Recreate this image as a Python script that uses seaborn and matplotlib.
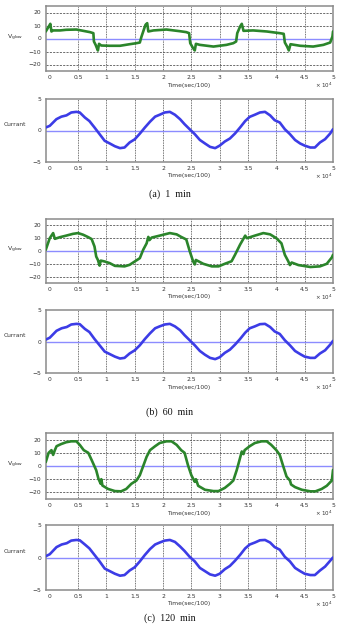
import numpy as np
import pandas as pd
import matplotlib
matplotlib.use("Agg")
import matplotlib.pyplot as plt
import seaborn as sns
from matplotlib.ticker import FuncFormatter, MultipleLocator

# ---------------- data (time in units of 1e4 sec/100) ----------------
va_x = [-0.07, -0.035, 0.0, 0.01, 0.03, 0.06, 0.18, 0.29, 0.47, 0.59, 0.71, 0.77, 0.78, 0.81, 0.84, 0.85,
        0.87, 0.91, 1.06, 1.24, 1.41, 1.53, 1.59, 1.62, 1.65, 1.69, 1.72, 1.74, 1.83, 2.06, 2.30, 2.41,
        2.46, 2.48, 2.53, 2.56, 2.58, 2.65, 2.89, 3.12, 3.24, 3.29, 3.31, 3.36, 3.39, 3.42, 3.59, 3.83,
        4.06, 4.13, 4.15, 4.19, 4.22, 4.25, 4.42, 4.65, 4.83, 4.95, 4.99, 5.0]
va_y = [5.4, 8.0, 10.5, 11.3, 5.4, 6.2, 6.2, 6.7, 6.9, 5.9, 4.9, 4.1, -2.3, -4.9, -8.2, -9.2,
        -4.1, -5.4, -5.6, -5.6, -4.4, -3.6, -3.1, 1.5, 5.4, 10.5, 11.8, 5.4, 6.2, 6.9, 5.6, 4.9,
        4.1, -3.6, -7.4, -9.2, -4.1, -4.9, -6.2, -4.9, -3.6, -2.3, 4.1, 9.2, 11.3, 5.9, 6.2, 5.4,
        4.1, 3.6, -3.1, -6.2, -9.2, -4.4, -5.6, -6.2, -4.9, -3.1, 1.5, 5.4]

vb_x = [-0.07, 0.0, 0.06, 0.09, 0.18, 0.29, 0.41, 0.50, 0.59, 0.68, 0.74, 0.79, 0.82, 0.85, 0.88, 0.90,
        0.97, 1.06, 1.15, 1.32, 1.41, 1.50, 1.59, 1.65, 1.71, 1.74, 1.76, 1.80, 1.94, 2.12, 2.24, 2.32,
        2.41, 2.47, 2.53, 2.56, 2.58, 2.71, 2.86, 2.98, 3.09, 3.21, 3.27, 3.36, 3.45, 3.48, 3.62, 3.77,
        3.89, 4.00, 4.09, 4.15, 4.21, 4.24, 4.27, 4.39, 4.60, 4.77, 4.89, 4.98, 5.0]
vb_y = [1.0, 10.0, 14.0, 9.5, 10.8, 12.0, 13.4, 14.0, 12.7, 10.8, 9.3, 3.5, -4.3, -7.0, -11.4, -7.5,
        -8.2, -9.5, -11.6, -12.0, -10.8, -8.2, -5.6, 1.0, 6.0, 11.0, 8.5, 10.5, 12.0, 14.0, 13.0, 11.0,
        9.0, 0.0, -8.0, -10.5, -7.0, -10.0, -12.0, -12.0, -10.0, -8.0, -3.0, 5.0, 12.0, 10.0, 12.0, 14.0,
        13.0, 10.0, 6.0, -3.0, -8.0, -11.0, -9.0, -11.0, -12.5, -12.0, -10.0, -5.0, -3.0]

vc_x = [-0.07, -0.02, 0.03, 0.06, 0.09, 0.12, 0.20, 0.29, 0.38, 0.47, 0.53, 0.60, 0.68, 0.74, 0.82, 0.86,
        0.90, 0.91, 0.93, 1.03, 1.15, 1.26, 1.35, 1.44, 1.53, 1.59, 1.65, 1.71, 1.77, 1.86, 1.94, 2.06,
        2.15, 2.24, 2.32, 2.38, 2.44, 2.50, 2.56, 2.58, 2.62, 2.74, 2.89, 2.98, 3.09, 3.18, 3.24, 3.30,
        3.34, 3.39, 3.42, 3.44, 3.53, 3.62, 3.74, 3.83, 3.91, 4.00, 4.06, 4.12, 4.18, 4.24, 4.26, 4.33,
        4.45, 4.60, 4.69, 4.80, 4.89, 4.98, 5.0]
vc_y = [3.0, 10.0, 12.0, 8.4, 12.0, 15.0, 16.6, 18.0, 18.7, 18.7, 16.0, 12.0, 10.0, 4.5, -3.2, -9.7,
        -13.5, -10.0, -14.8, -17.4, -19.0, -19.2, -17.4, -13.5, -11.0, -7.0, 0.0, 7.0, 12.0, 15.0, 17.4, 18.7,
        18.7, 16.0, 12.0, 10.0, 0.6, -7.0, -12.0, -10.0, -15.0, -18.0, -19.0, -19.0, -16.6, -13.5, -11.0, -3.2,
        3.0, 11.0, 9.0, 12.0, 15.0, 17.4, 18.7, 18.7, 16.0, 12.0, 8.4, 0.0, -8.0, -11.0, -14.0, -16.0,
        -18.0, -19.2, -19.2, -17.4, -15.0, -11.0, -3.0]

ia_x = [-0.07, 0.0, 0.118, 0.206, 0.295, 0.38, 0.47, 0.53, 0.62, 0.70, 0.79, 0.88, 0.97, 1.06, 1.15, 1.24,
        1.32, 1.41, 1.50, 1.59, 1.68, 1.77, 1.86, 1.94, 2.03, 2.12, 2.21, 2.30, 2.38, 2.47, 2.56, 2.65,
        2.74, 2.83, 2.92, 3.00, 3.09, 3.18, 3.27, 3.36, 3.45, 3.53, 3.62, 3.71, 3.80, 3.89, 3.97, 4.06,
        4.15, 4.24, 4.33, 4.42, 4.50, 4.60, 4.68, 4.77, 4.86, 4.95, 5.0]
ia_y = [0.48, 0.74, 1.8, 2.2, 2.4, 2.86, 2.96, 2.86, 2.06, 1.5, 0.48, -0.58, -1.64, -2.06, -2.5, -2.8,
        -2.7, -1.9, -1.4, -0.5, 0.48, 1.4, 2.2, 2.5, 2.86, 2.96, 2.5, 1.8, 1.0, 0.2, -0.58, -1.5,
        -2.06, -2.6, -2.8, -2.4, -1.75, -1.27, -0.48, 0.48, 1.5, 2.17, 2.5, 2.86, 2.96, 2.4, 1.64, 1.27,
        0.2, -0.58, -1.5, -2.06, -2.4, -2.7, -2.7, -1.9, -1.38, -0.48, 0.2]

ib_x = [-0.07, 0.0, 0.12, 0.21, 0.30, 0.38, 0.47, 0.53, 0.62, 0.70, 0.79, 0.88, 0.97, 1.06, 1.15, 1.24,
        1.32, 1.41, 1.50, 1.59, 1.68, 1.77, 1.86, 1.94, 2.03, 2.12, 2.21, 2.30, 2.38, 2.47, 2.56, 2.65,
        2.74, 2.83, 2.92, 3.00, 3.09, 3.18, 3.27, 3.36, 3.45, 3.53, 3.62, 3.71, 3.80, 3.89, 3.97, 4.06,
        4.15, 4.24, 4.33, 4.42, 4.50, 4.60, 4.68, 4.77, 4.86, 4.95, 5.0]
ib_y = [0.3, 0.6, 1.7, 2.1, 2.3, 2.7, 2.8, 2.75, 2.0, 1.5, 0.4, -0.6, -1.6, -2.0, -2.4, -2.7,
        -2.6, -1.9, -1.4, -0.6, 0.4, 1.3, 2.1, 2.4, 2.7, 2.8, 2.4, 1.8, 1.0, 0.2, -0.6, -1.5,
        -2.1, -2.6, -2.8, -2.5, -1.8, -1.3, -0.5, 0.4, 1.4, 2.1, 2.4, 2.75, 2.8, 2.3, 1.6, 1.2,
        0.2, -0.6, -1.5, -2.0, -2.4, -2.6, -2.6, -1.9, -1.4, -0.5, 0.1]

ic_x = [-0.07, 0.0, 0.12, 0.21, 0.30, 0.38, 0.47, 0.53, 0.62, 0.70, 0.79, 0.88, 0.97, 1.06, 1.15, 1.24,
        1.32, 1.41, 1.50, 1.59, 1.68, 1.77, 1.86, 1.94, 2.03, 2.12, 2.21, 2.30, 2.38, 2.47, 2.56, 2.65,
        2.74, 2.83, 2.92, 3.00, 3.09, 3.18, 3.27, 3.36, 3.45, 3.53, 3.62, 3.71, 3.80, 3.89, 3.97, 4.06,
        4.15, 4.24, 4.33, 4.42, 4.50, 4.60, 4.68, 4.77, 4.86, 4.95, 5.0]
ic_y = [0.2, 0.5, 1.6, 2.0, 2.2, 2.6, 2.7, 2.65, 2.0, 1.4, 0.4, -0.6, -1.7, -2.1, -2.5, -2.8,
        -2.7, -2.0, -1.5, -0.6, 0.4, 1.3, 2.0, 2.3, 2.6, 2.7, 2.4, 1.7, 1.0, 0.1, -0.6, -1.6,
        -2.1, -2.6, -2.8, -2.5, -1.8, -1.3, -0.5, 0.4, 1.4, 2.0, 2.3, 2.65, 2.7, 2.3, 1.6, 1.2,
        0.1, -0.6, -1.6, -2.1, -2.5, -2.7, -2.7, -2.0, -1.4, -0.5, 0.0]

captions = ["(a)  1  min", "(b)  60  min", "(c)  120  min"]
x_ticks = [0, 0.5, 1, 1.5, 2, 2.5, 3, 3.5, 4, 4.5, 5]
v_ticks = [-20, -10, 0, 10, 20]
i_ticks = [-5, 0, 5]

volt_series = [(va_x, va_y), (vb_x, vb_y), (vc_x, vc_y)]
curr_series = [(ia_x, ia_y), (ib_x, ib_y), (ic_x, ic_y)]

# ---------------- figure ----------------
sns.set_theme(style="white")
plt.rcParams['font.family'] = ['DejaVu Sans']

W, H = 339, 627
fig = plt.figure(figsize=(W / 100, H / 100), dpi=100)

left, right = 45.5, 333.0
panels = [(6, 71), (99, 162), (219, 283), (310, 373), (433, 499), (525, 590)]
cap_y = [194, 412, 618]

GREEN = "#2b852b"
BLUE = "#3c3ce6"
ZERO = "#8c8cff"
SPINE = "#8a8a8a"

fmt = FuncFormatter(lambda v, p: f"{v:g}")

for k in range(6):
    top, bot = panels[k]
    ax = fig.add_axes([left / W, 1 - bot / H, (right - left) / W, (bot - top) / H])
    is_volt = (k % 2 == 0)
    grp = k // 2
    if is_volt:
        xs, ys = volt_series[grp]
        ax.set_ylim(-25, 25)
        ax.set_yticks(v_ticks)
        for yv in [-20, -10, 10, 20]:
            ax.axhline(yv, color="#555555", lw=0.6, ls=(0, (2.5, 1.5)), zorder=1)
        color = GREEN
        ylab = r"V$_{\rm glow}$"
    else:
        xs, ys = curr_series[grp]
        ax.set_ylim(-5, 5)
        ax.set_yticks(i_ticks)
        color = BLUE
        ylab = "Currant"
    ax.set_xlim(-0.075, 5)
    ax.set_xticks(x_ticks)
    ax.xaxis.set_major_formatter(fmt)
    for xv in x_ticks[1:-1]:
        ax.axvline(xv, color="#444444", lw=0.6, ls=(0, (1, 1)), zorder=1)
    ax.axhline(0, color=ZERO, lw=1.0, zorder=2)

    df = pd.DataFrame({"t": xs, "v": ys})
    sns.lineplot(data=df, x="t", y="v", ax=ax, color=color, lw=1.9,
                 sort=False, estimator=None, zorder=3)

    ax.set_xlabel("")
    ax.set_ylabel("")
    ax.tick_params(axis="both", which="both", length=0, labelsize=4.3,
                   colors="#333333", pad=3)
    for s in ax.spines.values():
        s.set_color(SPINE)
        s.set_linewidth(1.1)

    # axis labels
    fig.text(189 / W, 1 - (bot + 14) / H, "Time(sec/100)", ha="center", va="center",
             fontsize=4.3, color="#333333")
    fig.text(right / W, 1 - (bot + 14) / H, r"$\times$ 10$^4$", ha="right", va="center",
             fontsize=4.0, color="#333333")
    if is_volt:
        fig.text(15 / W, 1 - ((top + bot) / 2 - 1) / H, ylab, ha="center", va="center",
                 fontsize=4.5, color="#333333")
    else:
        fig.text(15 / W, 1 - ((top + bot) / 2 - 6) / H, ylab, ha="center", va="center",
                 fontsize=4.3, color="#333333")

for c, yc in zip(captions, cap_y):
    fig.text(170 / W, 1 - yc / H, c, ha="center", va="center", fontsize=7.2,
             family="Liberation Serif", color="#111111")

fig.savefig("out.png", dpi=100)
